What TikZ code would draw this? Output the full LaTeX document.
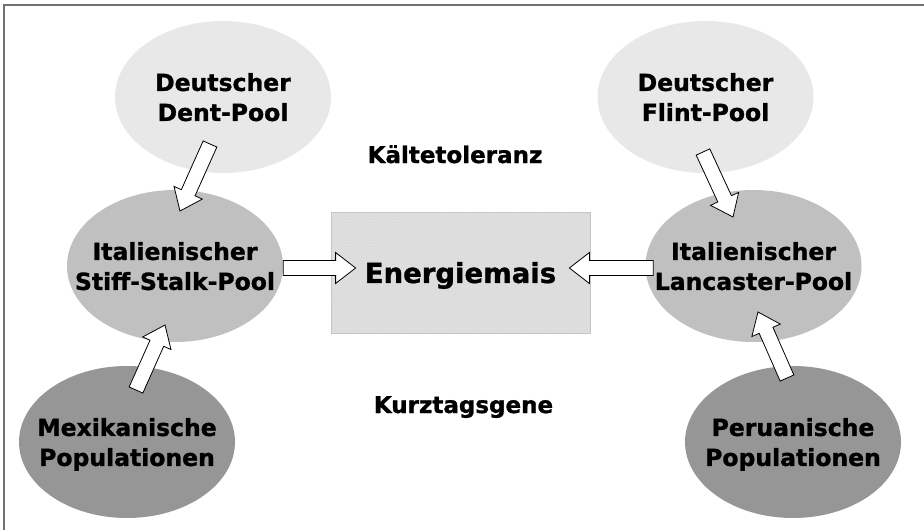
\documentclass[tikz,border=0pt]{standalone}
\usepackage{fontspec}
\setmainfont{DejaVu Sans}[BoldFeatures={FakeBold=1.2}]
\usetikzlibrary{shapes.geometric,calc,patterns}
\definecolor{poolA}{HTML}{E8E8E8}
\definecolor{poolB}{HTML}{C0C0C0}
\definecolor{poolC}{HTML}{969696}
\definecolor{maisfill}{HTML}{DCDCDC}
\definecolor{maisedge}{HTML}{C4C4C4}
\definecolor{framegray}{HTML}{707070}
% hollow block arrow from #1 (tail) to #2 (tip)
\newcommand{\blockarrow}[2]{%
  \coordinate (hb) at ($(#2)!20pt!(#1)$);
  \filldraw[fill=white,draw=black,line width=0.8pt,line join=miter]
    ($(#1)!7.5pt!90:(#2)$) -- ($(hb)!7.5pt!-90:(#1)$) -- ($(hb)!15.5pt!-90:(#1)$)
    -- (#2) -- ($(hb)!15.5pt!90:(#1)$) -- ($(hb)!7.5pt!90:(#1)$)
    -- ($(#1)!7.5pt!-90:(#2)$) -- cycle;}

\begin{document}
\begin{tikzpicture}[x=1pt,y=-1pt,
  pool/.style={ellipse,draw=none,minimum width=216pt,minimum height=152pt,inner sep=0pt},
  pooltext/.style={align=center,inner sep=0pt,text depth=0pt,
    font=\fontsize{23.5}{30}\selectfont\bfseries},
  midtext/.style={anchor=base,inner sep=0pt,font=\fontsize{23}{28}\selectfont\bfseries}]
  \useasboundingbox (0,0) rectangle (924,530);
  \fill[white] (0,0) rectangle (924,530);
  \draw[framegray,line width=1.5pt] (4,530) -- (4,5) -- (924,5);

  % German pools
  \node[pool,fill=poolA,label={[pooltext]center:Deutscher\\Dent-Pool}] (dent) at (223,97) {};
  \node[pool,fill=poolA,label={[pooltext]center:Deutscher\\Flint-Pool}] (flint) at (705.5,97) {};

  % Italian pools
  \node[pool,fill=poolB,label={[pooltext]center:Italienischer\\Stiff-Stalk-Pool}] (stiff) at (175,266) {};
  \node[pool,fill=poolB,label={[pooltext]center:Italienischer\\Lancaster-Pool}] (lanc) at (753.5,266) {};

  % Exotic populations
  \node[pool,fill=poolC,label={[pooltext]center:Mexikanische\\Populationen}] (mex) at (127,442) {};
  \node[pool,fill=poolC,label={[pooltext]center:Peruanische\\Populationen}] (peru) at (793,442) {};

  % Target
  \node[draw=maisedge,fill=maisfill,line width=0.8pt,minimum width=259pt,minimum height=121pt,
    postaction={pattern=dots,pattern color=white!60!maisfill}] (mais) at (460.5,272.5) {};
  \node[inner sep=0pt,text depth=0pt,font=\fontsize{27.5}{32}\selectfont\bfseries] (maislabel) at (mais) {Energiemais};

  % Traits
  \node[midtext] (cold) at (455,163) {Kältetoleranz};
  \node[midtext] (short) at (463.5,413) {Kurztagsgene};

  % Arrow ends
  \coordinate (dentout) at ($(dent)+(-13,47)$);
  \coordinate (dentin) at ($(stiff)+(5,-55)$);
  \coordinate (mexout) at ($(mex)+(9,-52)$);
  \coordinate (mexin) at ($(stiff)+(-10,59)$);
  \coordinate (flintout) at ($(flint)+(-2.5,55)$);
  \coordinate (flintin) at ($(lanc)+(-20.5,-49)$);
  \coordinate (peruout) at ($(peru)+(-6,-64)$);
  \coordinate (peruin) at ($(lanc)+(4.5,46)$);
  \coordinate (stiffout) at ($(stiff.east)+(0,2)$);
  \coordinate (stiffin) at ($(mais.west)+(25,-4.5)$);
  \coordinate (lancout) at ($(lanc.west)+(8,2)$);
  \coordinate (lancin) at ($(mais.east)+(-21,-4.5)$);

  \blockarrow{dentout}{dentin}
  \blockarrow{mexout}{mexin}
  \blockarrow{flintout}{flintin}
  \blockarrow{peruout}{peruin}
  \blockarrow{stiffout}{stiffin}
  \blockarrow{lancout}{lancin}
\end{tikzpicture}
\end{document}
